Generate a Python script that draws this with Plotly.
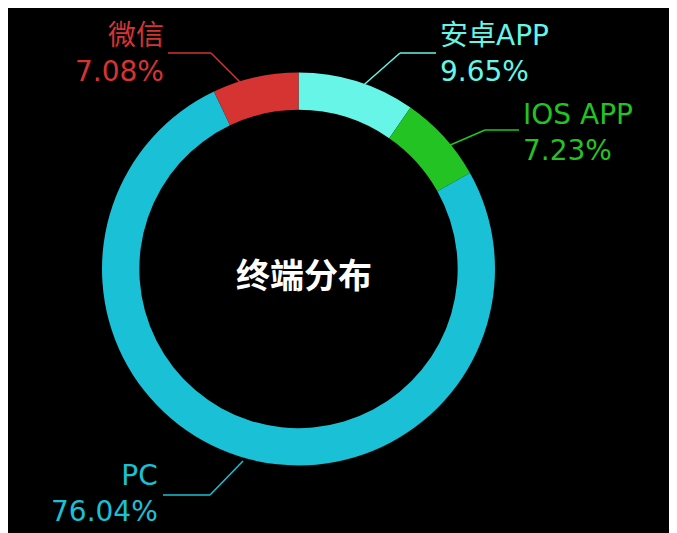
import plotly.graph_objects as go

labels = ["安卓APP", "IOS APP", "PC", "微信"]
values = [9.65, 7.23, 76.04, 7.08]
colors = ["#66f5e6", "#22c322", "#1ac1d6", "#d63333"]

W, H = 677, 533

def px(x, y):
    return x / W, 1 - y / H

fig = go.Figure(go.Pie(
    labels=labels, values=values, hole=0.81, sort=False,
    direction="clockwise", rotation=0,
    marker=dict(colors=colors, line=dict(width=0)),
    textinfo="none", hoverinfo="label+percent",
    domain=dict(x=[94 / W, 487 / W], y=[1 - 458 / H, 1 - 64 / H]),
))

# label position (px), alignment, leader line points (px)
label_info = {
    "微信": ((158, 46), "right", [(243, 85), (203, 45), (160, 45)]),
    "安卓APP": ((430, 46), "left", [(350, 82), (392, 45), (428, 45)]),
    "IOS APP": ((513, 124), "left", [(440, 138), (477, 122), (511, 122)]),
    "PC": ((152, 485), "right", [(235, 453), (202, 487), (155, 487)]),
}

annotations = []
shapes = []
for lab, val, col in zip(labels, values, colors):
    (tx, ty), align, pts = label_info[lab]
    x, y = px(tx, ty)
    annotations.append(dict(
        x=x, y=y, xref="paper", yref="paper", showarrow=False,
        text=f"{lab}<br>{val:.2f}%", align=align,
        xanchor="right" if align == "right" else "left", yanchor="middle",
        font=dict(size=28, color=col, family="DejaVu Sans, Noto Sans CJK SC"),
    ))
    for (x0, y0), (x1, y1) in zip(pts[:-1], pts[1:]):
        a0, b0 = px(x0, y0)
        a1, b1 = px(x1, y1)
        shapes.append(dict(type="line", xref="paper", yref="paper",
                           x0=a0, y0=b0, x1=a1, y1=b1,
                           line=dict(color=col, width=1.5)))

cx, cy = px(296, 265)
annotations.append(dict(
    x=cx, y=cy, xref="paper", yref="paper", showarrow=False,
    text="<b>终端分布</b>",
    font=dict(size=34, color="white", family="Noto Sans CJK SC"),
))

fig.update_layout(
    width=W, height=H, margin=dict(l=0, r=0, t=0, b=0),
    paper_bgcolor="black", plot_bgcolor="black", showlegend=False,
    annotations=annotations, shapes=shapes,
)
fig.write_html("out.html")
